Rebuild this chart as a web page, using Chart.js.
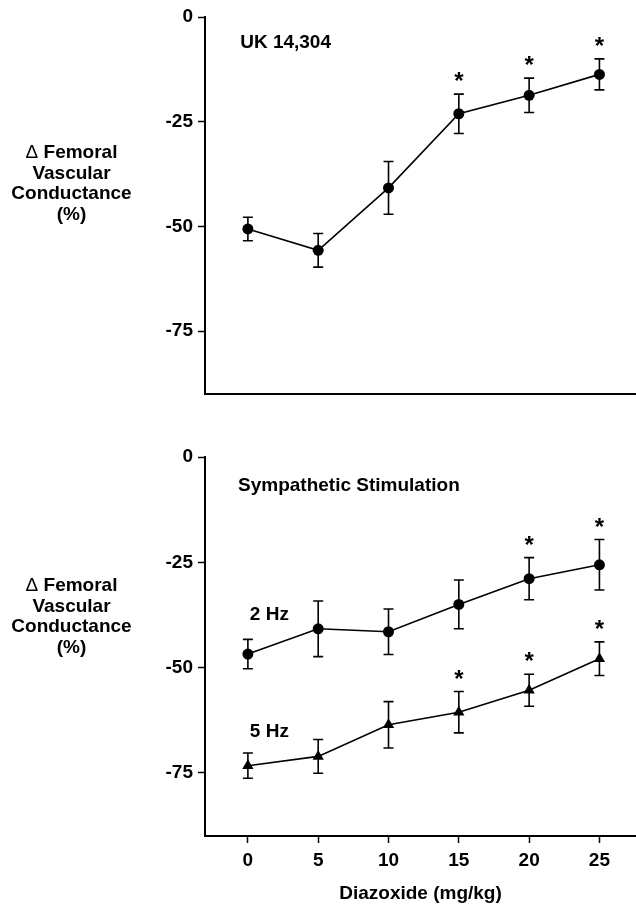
<!DOCTYPE html>
<html>
<head>
<meta charset="utf-8">
<script src="https://cdn.jsdelivr.net/npm/chart.js@4.4.1/dist/chart.umd.min.js"></script>
<style>
  html, body { margin: 0; padding: 0; background: #fff; }
  body { position: relative; width: 636px; height: 905px; overflow: hidden; }
  canvas { position: absolute; left: 0; }
  #top-chart { top: 0; }
  #bottom-chart { top: 420px; }
  .ytitle {
    position: absolute; left: 0; width: 143px; text-align: center;
    font: bold 19px "Liberation Sans", Arial, sans-serif; line-height: 20.5px; color: #000;
  }
  .ytitle .delta { font-weight: normal; }
</style>
</head>
<body>
<canvas id="top-chart" width="636" height="420"></canvas>
<canvas id="bottom-chart" width="636" height="485"></canvas>
<div class="ytitle" style="top:142px"><span class="delta">Δ</span> Femoral<br>Vascular<br>Conductance<br>(%)</div>
<div class="ytitle" style="top:575px"><span class="delta">Δ</span> Femoral<br>Vascular<br>Conductance<br>(%)</div>
<script>
// diazoxide doses (mg/kg)
const doses = [0, 5, 10, 15, 20, 25];
const yTicks = [0, -25, -50, -75];

// UK 14,304 response, mean and SEM
const ukMean = [-50.6, -55.7, -40.8, -23.1, -18.7, -13.7];
const ukSem = [2.8, 4.0, 6.3, 4.7, 4.1, 3.7];
const ukStars = [15, 20, 25];

// sympathetic stimulation 2 Hz
const hz2Mean = [-46.8, -40.8, -41.5, -35.0, -28.9, -25.6];
const hz2Sem = [3.5, 6.6, 5.4, 5.8, 5.0, 6.0];
const hz2Stars = [20, 25];

// sympathetic stimulation 5 Hz
const hz5Mean = [-73.3, -71.1, -63.6, -60.6, -55.4, -47.9];
const hz5Sem = [3.0, 4.0, 5.5, 4.9, 3.8, 4.0];
const hz5Stars = [15, 20, 25];

const FONT = '"Liberation Sans", Arial, sans-serif';
Chart.defaults.font.family = FONT;
Chart.defaults.font.size = 19;
Chart.defaults.font.weight = "bold";
Chart.defaults.color = "#000";

function toPoints(mean) {
  return doses.map((d, i) => ({ x: d, y: mean[i] }));
}

function series(mean, sem, stars, shape, radius) {
  return {
    data: toPoints(mean),
    sem: sem,
    stars: stars,
    borderColor: "#000",
    backgroundColor: "#000",
    borderWidth: 1.6,
    pointStyle: shape,
    pointRadius: radius,
    pointBorderWidth: 0,
    tension: 0
  };
}

// error bars + significance asterisks, drawn through the chart scales
const errorBars = {
  id: "errorBars",
  afterDatasetsDraw(chart) {
    const { ctx, scales: { x, y } } = chart;
    ctx.save();
    ctx.strokeStyle = "#000";
    ctx.fillStyle = "#000";
    ctx.lineWidth = 1.6;
    chart.data.datasets.forEach(ds => {
      ds.data.forEach((p, i) => {
        const px = x.getPixelForValue(p.x);
        const hi = y.getPixelForValue(p.y + ds.sem[i]);
        const lo = y.getPixelForValue(p.y - ds.sem[i]);
        ctx.beginPath();
        ctx.moveTo(px, hi); ctx.lineTo(px, lo);
        ctx.moveTo(px - 5, hi); ctx.lineTo(px + 5, hi);
        ctx.moveTo(px - 5, lo); ctx.lineTo(px + 5, lo);
        ctx.stroke();
      });
      ctx.font = "bold 24px " + FONT;
      ctx.textAlign = "center";
      ctx.textBaseline = "alphabetic";
      ds.stars.forEach(d => {
        const i = doses.indexOf(d);
        const px = x.getPixelForValue(d);
        const hi = y.getPixelForValue(ds.data[i].y + ds.sem[i]);
        ctx.fillText("*", px, hi - 5);
      });
    });
    ctx.restore();
  }
};

// text annotations placed in data coordinates
const annotations = {
  id: "annotations",
  afterDraw(chart, args, opts) {
    const { ctx, scales: { x, y } } = chart;
    ctx.save();
    ctx.fillStyle = "#000";
    ctx.font = "bold 19px " + FONT;
    ctx.textAlign = "left";
    ctx.textBaseline = "middle";
    (opts.labels || []).forEach(l => {
      ctx.fillText(l.text, x.getPixelForValue(l.x), y.getPixelForValue(l.y));
    });
    ctx.restore();
  }
};

function yScale() {
  return {
    min: -90,
    max: 0,
    afterBuildTicks: s => { s.ticks = yTicks.map(v => ({ value: v })); },
    afterFit: s => { s.width = 205; },
    ticks: { padding: 5, font: { size: 19, weight: "bold" } },
    grid: { drawOnChartArea: false, tickLength: 7, tickWidth: 1.5, tickColor: "#000" },
    border: { color: "#000", width: 2 }
  };
}

new Chart(document.getElementById("top-chart"), {
  type: "line",
  data: { datasets: [series(ukMean, ukSem, ukStars, "circle", 5.5)] },
  options: {
    responsive: false,
    animation: false,
    layout: { autoPadding: false, padding: { top: 17, right: 0, bottom: 0, left: 0 } },
    plugins: {
      legend: { display: false },
      tooltip: { enabled: false },
      annotations: { labels: [{ text: "UK 14,304", x: -0.55, y: -6.2 }] }
    },
    scales: {
      x: {
        type: "linear",
        min: -3.05,
        max: 27.6,
        afterFit: s => { s.height = 26; },
        ticks: { display: false },
        grid: { display: false, drawTicks: false },
        border: { color: "#000", width: 2 }
      },
      y: yScale()
    }
  },
  plugins: [errorBars, annotations]
});

new Chart(document.getElementById("bottom-chart"), {
  type: "line",
  data: {
    datasets: [
      series(hz2Mean, hz2Sem, hz2Stars, "circle", 5.5),
      series(hz5Mean, hz5Sem, hz5Stars, "triangle", 6.5)
    ]
  },
  options: {
    responsive: false,
    animation: false,
    layout: { autoPadding: false, padding: { top: 37, right: 0, bottom: 0, left: 0 } },
    plugins: {
      legend: { display: false },
      tooltip: { enabled: false },
      annotations: {
        labels: [
          { text: "Sympathetic Stimulation", x: -0.7, y: -6.8 },
          { text: "2 Hz", x: 0.14, y: -37.5 },
          { text: "5 Hz", x: 0.14, y: -65.3 }
        ]
      }
    },
    scales: {
      x: {
        type: "linear",
        min: -3.05,
        max: 27.6,
        afterBuildTicks: s => { s.ticks = doses.map(v => ({ value: v })); },
        afterFit: s => { s.height = 69; },
        ticks: { padding: 6, maxRotation: 0, font: { size: 19, weight: "bold" } },
        grid: { drawOnChartArea: false, tickLength: 7, tickWidth: 1.5, tickColor: "#000" },
        border: { color: "#000", width: 2 },
        title: {
          display: true,
          text: "Diazoxide (mg/kg)",
          padding: { top: 0, bottom: 0 },
          font: { size: 19, weight: "bold" }
        }
      },
      y: yScale()
    }
  },
  plugins: [errorBars, annotations]
});
</script>
</body>
</html>
